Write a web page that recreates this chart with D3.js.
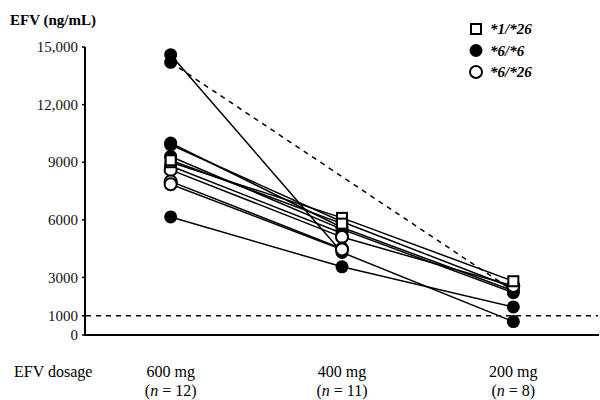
<!DOCTYPE html>
<html>
<head>
<meta charset="utf-8">
<script src="https://cdn.jsdelivr.net/npm/d3@7"></script>
<style>
  html, body { margin: 0; padding: 0; background: #fff; }
  svg { display: block; font-family: "Liberation Serif", "DejaVu Serif", serif; }
</style>
</head>
<body>
<svg id="chart" width="600" height="400"></svg>
<script>
// ------------------------------------------------------------
// EFV plasma concentration by dosage step, one line per patient
// ------------------------------------------------------------

// x categories (dosage steps) and the n under each
var doses   = ['600 mg', '400 mg', '200 mg'];
var nCounts = ['12', '11', '8'];

// y ticks
var yTicks      = [0, 1000, 3000, 6000, 9000, 12000, 15000];
var yTickLabels = ['0', '1000', '3000', '6000', '9000', '12,000', '15,000'];

// legend
var genotypes = ['*1/*26', '*6/*6', '*6/*26'];

// one entry per patient (null = not measured at that dose)
var patientGenotype = ['*6/*6', '*6/*6', '*6/*6', '*6/*6', '*6/*6', '*6/*6',
                       '*6/*26', '*6/*26', '*6/*26', '*6/*6', '*1/*26', '*1/*26'];
var efv600 = [14600, 14200, 10000, 9900, 9300, 6150, 8600, 8000, 7850, 8800, 9000, 9100];
var efv400 = [4300,  null,  5600,  5900, 5500, 3550, 5100, 4500, 4450, 5300, 6100, 5800];
var efv200 = [700,   2300,  2300,  2450, 2200, 1460, 2550, null, null, null, 2800, null];

// reference level (ng/mL)
var refLevel = 1000;

var svg = d3.select('#chart');

var x = d3.scalePoint().domain(doses).range([85, 599]).padding(0.5);
var y = d3.scaleLinear().domain([0, 15000]).range([335, 47]);

// --- axes ---
svg.append('line')
  .attr('x1', 85).attr('x2', 85)
  .attr('y1', y(15000)).attr('y2', y(0))
  .attr('stroke', '#000').attr('stroke-width', 2);

svg.append('line')
  .attr('x1', 84).attr('x2', 599)
  .attr('y1', y(0)).attr('y2', y(0))
  .attr('stroke', '#000').attr('stroke-width', 2);

var yAxis = svg.append('g');
yAxis.selectAll('line')
  .data(yTicks)
  .enter().append('line')
  .attr('x1', 82).attr('x2', 85)
  .attr('y1', function(d) { return y(d); })
  .attr('y2', function(d) { return y(d); })
  .attr('stroke', '#000').attr('stroke-width', 1.5);

yAxis.selectAll('text')
  .data(yTicks)
  .enter().append('text')
  .attr('x', 78)
  .attr('y', function(d) { return y(d); })
  .attr('dy', '0.35em')
  .attr('text-anchor', 'end')
  .attr('font-size', 15)
  .attr('fill', '#111')
  .text(function(d, i) { return yTickLabels[i]; });

svg.append('text')
  .attr('x', 10).attr('y', 25)
  .attr('font-size', 15).attr('font-weight', 'bold')
  .text('EFV (ng/mL)');

// dashed reference line at 1000 ng/mL
svg.append('line')
  .attr('x1', 86).attr('x2', 598)
  .attr('y1', y(refLevel)).attr('y2', y(refLevel))
  .attr('stroke', '#000').attr('stroke-width', 1.5)
  .attr('stroke-dasharray', '5,5');

// --- x labels ---
svg.append('text')
  .attr('x', 14).attr('y', 377)
  .attr('font-size', 16)
  .text('EFV dosage');

var xLab = svg.append('g');
doses.forEach(function(d, i) {
  xLab.append('text')
    .attr('x', x(d)).attr('y', 377)
    .attr('text-anchor', 'middle').attr('font-size', 16)
    .text(d);
  var t = xLab.append('text')
    .attr('x', x(d)).attr('y', 396)
    .attr('text-anchor', 'middle').attr('font-size', 16);
  t.append('tspan').text('(');
  t.append('tspan').attr('font-style', 'italic').text('n');
  t.append('tspan').text(' = ' + nCounts[i] + ')');
});

// --- patient lines ---
var series = [efv600, efv400, efv200];
var segments = [];
patientGenotype.forEach(function(g, p) {
  var pts = [];
  series.forEach(function(s, k) {
    if (s[p] != null) pts.push({ k: k, v: s[p] });
  });
  for (var j = 1; j < pts.length; j++) {
    segments.push({
      a: pts[j - 1], b: pts[j],
      dashed: pts[j].k - pts[j - 1].k > 1   // skipped a dose -> dashed
    });
  }
});

svg.append('g').selectAll('line')
  .data(segments)
  .enter().append('line')
  .attr('x1', function(d) { return x(doses[d.a.k]); })
  .attr('y1', function(d) { return y(d.a.v); })
  .attr('x2', function(d) { return x(doses[d.b.k]); })
  .attr('y2', function(d) { return y(d.b.v); })
  .attr('stroke', '#000')
  .attr('stroke-width', 1.5)
  .attr('stroke-dasharray', function(d) { return d.dashed ? '5,5' : null; });

// --- markers ---
var points = [];
patientGenotype.forEach(function(g, p) {
  series.forEach(function(s, k) {
    if (s[p] != null) points.push({ g: g, k: k, v: s[p] });
  });
});
// draw filled first, then open circles, squares on top
var order = { '*6/*6': 0, '*6/*26': 1, '*1/*26': 2 };
points.sort(function(a, b) { return order[a.g] - order[b.g]; });

function drawMarker(sel, g, cx, cy) {
  if (g === '*1/*26') {
    sel.append('rect')
      .attr('x', cx - 5).attr('y', cy - 5)
      .attr('width', 10).attr('height', 10)
      .attr('fill', '#fff').attr('stroke', '#000').attr('stroke-width', 2);
  } else if (g === '*6/*6') {
    sel.append('circle')
      .attr('cx', cx).attr('cy', cy).attr('r', 6.5)
      .attr('fill', '#000');
  } else {
    sel.append('circle')
      .attr('cx', cx).attr('cy', cy).attr('r', 6)
      .attr('fill', '#fff').attr('stroke', '#000').attr('stroke-width', 2);
  }
}

var markers = svg.append('g');
points.forEach(function(d) {
  drawMarker(markers, d.g, x(doses[d.k]), y(d.v));
});

// --- legend ---
var legend = svg.append('g');
genotypes.forEach(function(g, i) {
  var ly = 29 + i * 21.5;
  drawMarker(legend, g, 476, ly);
  legend.append('text')
    .attr('x', 490).attr('y', ly)
    .attr('dy', '0.35em')
    .attr('font-size', 15)
    .attr('font-style', 'italic').attr('font-weight', 'bold')
    .text(g);
});
</script>
</body>
</html>
